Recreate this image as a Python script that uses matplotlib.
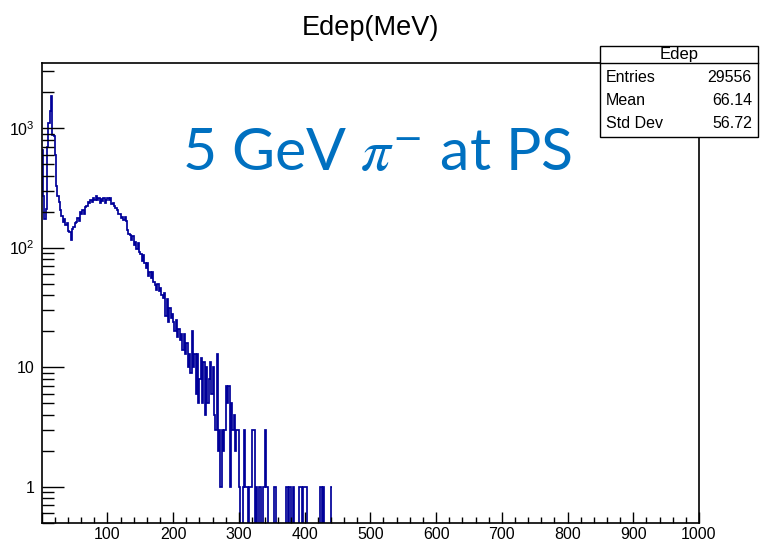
import numpy as np
import matplotlib
matplotlib.use("Agg")
import matplotlib.pyplot as plt
from matplotlib.patches import Rectangle
from matplotlib.lines import Line2D
from matplotlib.ticker import FixedLocator, NullFormatter, LogLocator

plt.rcParams['mathtext.fontset'] = 'custom'
plt.rcParams['mathtext.rm'] = 'Liberation Sans'
plt.rcParams['mathtext.it'] = 'Liberation Sans:italic'
plt.rcParams['mathtext.bf'] = 'Liberation Sans:bold'
plt.rcParams['mathtext.default'] = 'it'

# ---- data (2 MeV bins starting at 0 MeV) ----
bin_width = 2.0
counts = [
    650, 270, 175, 210, 700, 1100, 1380, 1850, 880, 850,        # 0-20
    600, 330, 270, 240, 205, 185, 165, 172, 154, 160,           # 20-40
    138, 135, 115, 142, 148, 162, 165, 176, 168, 198,           # 40-60
    190, 205, 192, 218, 222, 242, 236, 250, 240, 262,           # 60-80
    252, 270, 248, 258, 236, 256, 244, 260, 238, 250,           # 80-100
    262, 252, 258, 232, 238, 222, 215, 208, 192, 190,           # 100-120
    178, 182, 170, 180, 168, 140, 130, 128, 115, 124,           # 120-140
    106, 112, 98, 110, 92, 88, 78, 86, 74, 68,                  # 140-160
    74, 58, 63, 56, 62, 52, 49, 44, 50, 43,                     # 160-180
    46, 40, 38, 42, 27, 37, 24, 31, 26, 28,                     # 180-200
    24, 20, 25, 18, 21, 17, 19, 14, 19, 13,                     # 200-220
    16, 10, 13, 9, 20, 10, 13, 6, 13, 5,                        # 220-240
    8, 12, 5, 11, 4, 10, 5, 8, 11, 6,                           # 240-260
    10, 4, 3, 13, 2, 3, 1, 3, 2, 3,                             # 260-280
    7, 5, 7, 1, 5, 3, 4, 2, 3, 3,                               # 280-300
    1, 0, 0, 1, 3, 1, 1, 0, 1, 1,                               # 300-320
    3, 3, 0, 1, 0, 1, 1, 0, 1, 1,                               # 320-340
    3, 1, 0, 0, 0, 0, 0, 1, 0, 0,                               # 340-360
    0, 0, 0, 0, 0, 0, 1, 0, 1, 1,                               # 360-380
    0, 1, 0, 0, 0, 0, 1, 1, 0, 1,                               # 380-400
    1, 1, 0, 0, 0, 0, 0, 0, 0, 0,                               # 400-420
    0, 0, 1, 0, 1, 0, 0, 0, 0, 0,                               # 420-440
    1,                                                          # 440-442
]
x_tick_values = [100, 200, 300, 400, 500, 600, 700, 800, 900, 1000]
y_tick_values = [1, 10, 100, 1000]
y_tick_labels = ['1', '10', '$10^{2}$', '$10^{3}$']

title = 'Edep(MeV)'
stats_name = 'Edep'
stats_rows = [('Entries', '29556'), ('Mean', '66.14'), ('Std Dev', '56.72')]
annotation = '5 GeV $\\pi^{-}$ at PS'

# ---- figure ----
W, H = 761, 543
fig = plt.figure(figsize=(W / 100, H / 100), dpi=100)
fig.patch.set_facecolor('white')

def fx(px):
    return px / W

def fy(py):
    return 1 - py / H

left, right, top, bottom = 41.7, 699.0, 63.0, 522.7
ax = fig.add_axes([fx(left), fy(bottom), fx(right - left), (bottom - top) / H])

edges = np.arange(len(counts) + 1) * bin_width
ax.stairs(counts, edges, baseline=None, color='#000099', linewidth=1.25)

ax.set_yscale('log')
ax.set_xlim(0, 1000)
ax.set_ylim(0.5, 3500)

for s in ax.spines.values():
    s.set_linewidth(1.2)
    s.set_color('black')

ax.xaxis.set_major_locator(FixedLocator([0] + x_tick_values))
ax.set_xticklabels([''] + [str(v) for v in x_tick_values])
ax.xaxis.set_minor_locator(FixedLocator(np.arange(0, 1001, 20)))
ax.yaxis.set_major_locator(FixedLocator(y_tick_values))
ax.set_yticklabels(y_tick_labels)
ax.yaxis.set_minor_locator(LogLocator(base=10, subs=np.arange(2, 10), numticks=20))
ax.yaxis.set_minor_formatter(NullFormatter())

ax.tick_params(axis='x', which='major', direction='in', length=8, width=1.0,
               top=False, bottom=True, pad=3, labelsize=11.5, labelfontfamily='Liberation Sans')
ax.tick_params(axis='x', which='minor', direction='in', length=4, width=1.0, top=False, bottom=True)
ax.tick_params(axis='y', which='major', direction='in', length=16, width=1.0,
               left=True, right=False, pad=5, labelsize=11.5, labelfontfamily='Liberation Sans')
ax.tick_params(axis='y', which='minor', direction='in', length=8.5, width=1.0, left=True, right=False)

# title
fig.text(fx(370), fy(28), title, ha='center', va='center', fontsize=19.5,
         family='Liberation Sans')

# stats box
bx0, bx1, by0, by1 = 600, 758, 46, 137
fig.add_artist(Rectangle((fx(bx0), fy(by1)), fx(bx1 - bx0), (by1 - by0) / H,
                         transform=fig.transFigure, facecolor='white',
                         edgecolor='black', linewidth=1.0, zorder=3))
fig.add_artist(Line2D([fx(bx0), fx(bx1)], [fy(63), fy(63)], transform=fig.transFigure,
                      color='black', linewidth=1.0, zorder=4))
fig.text(fx((bx0 + bx1) / 2), fy(54.5), stats_name, ha='center', va='center',
         fontsize=12, family='Liberation Sans', zorder=5)
for i, (lab, val) in enumerate(stats_rows):
    yy = fy(77 + 23.5 * i)
    fig.text(fx(606), yy, lab, ha='left', va='center', fontsize=11.5,
             family='Liberation Sans', zorder=5)
    fig.text(fx(752), yy, val, ha='right', va='center', fontsize=11.5,
             family='Liberation Sans', zorder=5)

# annotation
fig.text(fx(377), fy(154), annotation, ha='center', va='center', fontsize=42.5,
         family='Lato', color='#0070C0', math_fontfamily='stix', zorder=6)

fig.savefig('out.png', dpi=100)
